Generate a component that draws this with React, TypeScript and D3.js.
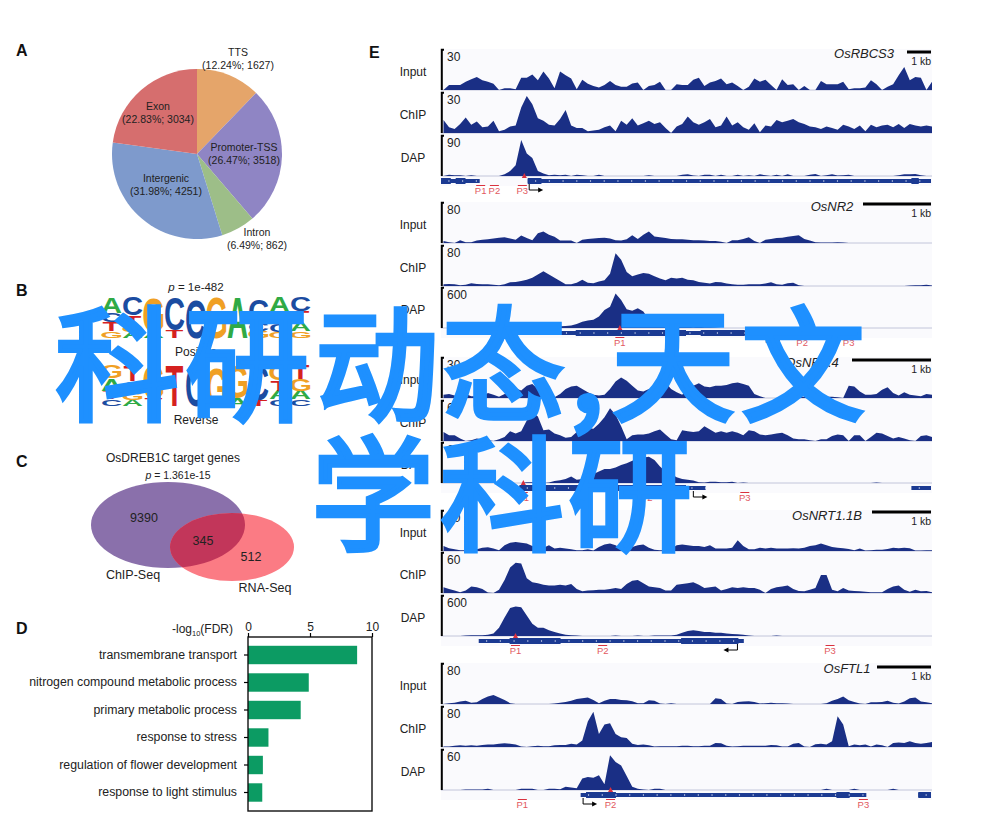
import { useEffect, useRef } from 'react';
import * as d3 from 'd3';

const FONT = '"Liberation Sans", Arial, sans-serif';

// Panel A
const pieNames = ['TTS', 'Promoter-TSS', 'Intron', 'Intergenic', 'Exon'];
const piePercents = [12.24, 26.47, 6.49, 31.98, 22.83];
const pieCounts = [1627, 3518, 862, 4251, 3034];
const pieColors = ['#E5A56A', '#8F85C4', '#9DBE88', '#7E9ACC', '#D66E6E'];
const pieLabelSpots = [[238, 52], [244, 147], [257, 232], [166, 178], [158, 106]];

// Panel B: motif columns, bottom letter first, heights in bits
const logoForward: [string, number][][] = [
  [['G', 0.33], ['T', 0.45], ['C', 0.42], ['A', 0.8]],
  [['A', 0.3], ['G', 0.3], ['T', 0.5], ['C', 0.9]],
  [['A', 0.3], ['G', 1.7]],
  [['T', 0.4], ['C', 1.6]],
  [['C', 1.85]],
  [['G', 2.0]],
  [['A', 2.0]],
  [['G', 0.35], ['C', 0.4], ['C', 1.15]],
  [['G', 0.3], ['C', 0.4], ['T', 0.55], ['A', 0.75]],
  [['G', 0.33], ['A', 0.42], ['T', 0.55], ['C', 0.7]],
];
const logoReverse: [string, number][][] = [
  [['C', 0.33], ['T', 0.42], ['A', 0.6], ['G', 0.65]],
  [['A', 0.3], ['G', 0.4], ['C', 0.5], ['T', 0.8]],
  [['T', 0.35], ['G', 1.65]],
  [['T', 2.0]],
  [['C', 2.0]],
  [['G', 1.9]],
  [['A', 0.4], ['G', 1.6]],
  [['T', 0.3], ['C', 1.7]],
  [['C', 0.33], ['A', 0.42], ['T', 0.5], ['G', 0.75]],
  [['C', 0.33], ['A', 0.42], ['G', 0.55], ['T', 0.7]],
];
const logoColors: Record<string, string> = { A: '#2FAA45', C: '#1B4CA1', G: '#F0A024', T: '#D5211F' };

// Panel D
const goTerms = [
  'transmembrane transport',
  'nitrogen compound metabolic process',
  'primary metabolic process',
  'response to stress',
  'regulation of flower development',
  'response to light stimulus',
];
const goValues = [8.8, 4.9, 4.25, 1.65, 1.2, 1.15];
const goTicks = [0, 5, 10];

// Panel E: signal per bin, ten bins to a row
const rbcsInput = [
  0, 12, 12, 12, 20, 26, 32, 24, 20, 15,
  0, 4, 4, 2, 30, 30, 38, 24, 45, 28,
  4, 45, 36, 28, 2, 25, 15, 10, 6, 12,
  22, 12, 8, 8, 16, 18, 0, 10, 12, 20,
  0, 0, 14, 12, 12, 25, 30, 10, 18, 22,
  28, 14, 18, 10, 0, 8, 28, 20, 25, 12,
  0, 26, 12, 14, 0, 10, 0, 0, 22, 14,
  14, 14, 20, 2, 4, 4, 6, 24, 14, 0,
  8, 14, 36, 56, 24, 32, 30, 0, 20,
];
const rbcsChip = [
  32, 14, 10, 22, 38, 20, 28, 14, 16, 30,
  4, 8, 16, 18, 62, 90, 70, 36, 30, 20,
  18, 34, 56, 18, 12, 12, 4, 6, 8, 14,
  18, 4, 30, 20, 36, 18, 24, 30, 22, 26,
  12, 0, 16, 22, 40, 26, 20, 26, 34, 14,
  18, 40, 18, 26, 14, 8, 24, 2, 18, 16,
  32, 26, 30, 34, 26, 22, 16, 14, 10, 16,
  12, 8, 20, 16, 10, 18, 4, 20, 14, 18,
  20, 14, 22, 12, 22, 18, 16, 18, 16,
];
const rbcsDap = [
  0, 3, 2, 2, 0, 2, 0, 0, 0, 0,
  0, 4, 12, 26, 88, 55, 44, 12, 6, 2,
  3, 2, 3, 0, 3, 2, 0, 0, 3, 0,
  0, 0, 0, 0, 0, 0, 0, 2, 0, 0,
  0, 0, 0, 3, 4, 1, 0, 3, 3, 0,
  3, 0, 0, 3, 0, 2, 0, 4, 2, 0,
  3, 0, 4, 0, 0, 0, 3, 5, 0, 2,
  4, 1, 2, 3, 0, 0, 0, 0, 0, 0,
  0, 0, 2, 4, 4, 5, 2, 0, 0,
];
const nr2Input = [
  5, 2, 0, 7, 2, 2, 6, 8, 9, 11,
  13, 14, 11, 8, 18, 12, 7, 24, 28, 20,
  15, 6, 6, 6, 0, 8, 10, 11, 12, 13,
  11, 7, 6, 9, 19, 10, 20, 28, 16, 14,
  12, 10, 9, 9, 8, 7, 7, 6, 5, 5,
  3, 0, 7, 7, 10, 14, 5, 0, 8, 10,
  12, 13, 15, 17, 19, 10, 6, 2, 1, 1,
  1, 2, 1, 0, 0, 0, 0, 0, 0, 0,
  0, 0, 0, 0, 0, 0, 0, 0, 0,
];
const nr2Chip = [
  4, 5, 4, 2, 3, 7, 5, 4, 4, 3,
  2, 4, 9, 10, 12, 15, 20, 28, 36, 28,
  20, 12, 4, 4, 8, 15, 8, 7, 11, 14,
  30, 80, 64, 34, 24, 28, 32, 30, 24, 18,
  14, 20, 18, 20, 15, 14, 10, 8, 6, 10,
  9, 6, 4, 3, 3, 4, 4, 4, 6, 9,
  4, 3, 7, 8, 2, 0, 0, 0, 0, 0,
  0, 0, 0, 0, 0, 0, 0, 0, 0, 0,
  0, 0, 0, 0, 1, 2, 2, 3, 1,
];
const nr2Dap = [
  0, 0, 0, 0, 0, 0, 0, 0, 0, 0,
  0, 0, 0, 0, 0, 0, 0, 0, 0, 0,
  3, 4, 5, 6, 10, 15, 18, 20, 28, 44,
  52, 84, 68, 46, 42, 48, 40, 20, 12, 8,
  6, 5, 4, 3, 3, 2, 3, 2, 2, 1,
  0, 0, 0, 0, 0, 0, 0, 0, 0, 0,
  0, 0, 0, 0, 0, 0, 0, 0, 0, 0,
  0, 0, 0, 0, 0, 0, 0, 0, 0, 0,
  0, 0, 0, 0, 0, 0, 0, 0, 0,
];
const nr24Input = [
  8, 10, 6, 3, 10, 4, 4, 3, 12, 8,
  3, 10, 16, 24, 18, 30, 34, 22, 12, 3,
  2, 10, 22, 28, 30, 22, 14, 8, 6, 8,
  22, 40, 50, 42, 30, 18, 16, 22, 14, 24,
  38, 22, 14, 8, 24, 30, 36, 28, 26, 30,
  30, 32, 36, 38, 34, 30, 10, 4, 0, 0,
  0, 0, 1, 2, 3, 3, 3, 3, 3, 3,
  3, 2, 0, 30, 28, 16, 8, 8, 10, 20,
  26, 12, 6, 14, 8, 6, 4, 10, 8,
];
const nr24Chip = [
  22, 14, 14, 6, 0, 2, 6, 4, 2, 0,
  4, 10, 24, 18, 24, 50, 70, 60, 26, 28,
  18, 14, 8, 10, 22, 40, 32, 30, 42, 58,
  80, 64, 36, 4, 14, 16, 16, 18, 24, 28,
  16, 4, 2, 26, 24, 22, 24, 36, 28, 20,
  24, 20, 24, 20, 14, 26, 24, 16, 14, 16,
  18, 20, 14, 6, 4, 4, 2, 0, 4, 4,
  12, 16, 14, 0, 14, 14, 0, 10, 20, 18,
  12, 6, 10, 6, 2, 0, 12, 14, 10,
];
const nr24Dap = [
  0, 0, 0, 0, 0, 0, 0, 0, 0, 0,
  0, 0, 0, 0, 0, 2, 2, 1, 0, 1,
  5, 7, 10, 16, 8, 10, 14, 22, 28, 34,
  34, 38, 44, 48, 54, 60, 62, 64, 56, 40,
  28, 22, 14, 10, 8, 6, 2, 1, 3, 3,
  2, 2, 3, 0, 1, 0, 0, 0, 0, 0,
  0, 0, 0, 0, 0, 0, 0, 0, 0, 0,
  0, 0, 0, 0, 0, 0, 0, 0, 1, 0,
  0, 0, 0, 0, 0, 0, 0, 0, 0,
];
const nrt11Input = [
  12, 7, 4, 2, 2, 6, 4, 8, 9, 6,
  2, 14, 20, 22, 20, 18, 12, 8, 8, 14,
  6, 8, 6, 4, 2, 2, 4, 1, 10, 16,
  18, 14, 6, 8, 10, 14, 16, 8, 3, 2,
  2, 5, 14, 16, 14, 12, 12, 10, 14, 6,
  6, 6, 8, 26, 12, 4, 4, 8, 6, 8,
  6, 6, 6, 7, 6, 8, 12, 14, 18, 14,
  10, 8, 7, 5, 2, 6, 1, 2, 3, 3,
  5, 8, 7, 8, 7, 1, 1, 2, 2,
];
const nrt11Chip = [
  14, 10, 6, 2, 6, 16, 14, 10, 1, 0,
  8, 32, 62, 74, 72, 36, 26, 24, 20, 18,
  18, 20, 18, 22, 10, 4, 6, 7, 8, 8,
  10, 12, 10, 22, 30, 32, 24, 16, 14, 12,
  6, 6, 20, 22, 24, 26, 20, 12, 14, 16,
  6, 10, 14, 12, 14, 12, 12, 8, 0, 10,
  14, 16, 18, 10, 5, 4, 8, 12, 44, 44,
  8, 4, 12, 6, 5, 4, 3, 2, 2, 2,
  10, 16, 18, 8, 3, 8, 4, 5, 2,
];
const nrt11Dap = [
  0, 0, 0, 0, 1, 2, 2, 2, 3, 6,
  20, 45, 68, 72, 70, 50, 30, 20, 20, 14,
  10, 6, 3, 2, 1, 0, 0, 0, 0, 0,
  0, 1, 0, 0, 0, 1, 0, 0, 1, 1,
  1, 1, 3, 8, 12, 14, 12, 10, 10, 8,
  8, 6, 5, 4, 3, 1, 0, 0, 0, 0,
  1, 0, 0, 0, 0, 0, 0, 0, 0, 0,
  0, 0, 0, 0, 0, 0, 0, 0, 0, 0,
  0, 0, 0, 0, 0, 0, 0, 0, 0,
];
const ftlInput = [
  0, 2, 3, 6, 8, 3, 4, 12, 18, 22,
  16, 10, 2, 0, 0, 0, 0, 0, 0, 0,
  1, 3, 5, 8, 12, 14, 16, 10, 2, 8,
  12, 12, 10, 9, 7, 2, 2, 9, 8, 1,
  0, 2, 0, 0, 0, 0, 0, 0, 0, 14,
  12, 1, 0, 5, 6, 7, 5, 1, 2, 3,
  2, 2, 1, 0, 0, 0, 0, 0, 0, 2,
  8, 12, 18, 9, 5, 1, 0, 4, 4, 5,
  8, 3, 1, 6, 14, 16, 6, 4, 2,
];
const ftlChip = [
  1, 1, 3, 4, 3, 4, 3, 5, 6, 6,
  8, 9, 8, 6, 1, 0, 2, 3, 2, 2,
  4, 5, 5, 8, 6, 16, 62, 86, 32, 55,
  58, 32, 24, 22, 8, 5, 6, 4, 1, 2,
  2, 2, 2, 3, 3, 2, 2, 3, 3, 10,
  9, 3, 1, 2, 3, 3, 3, 3, 3, 5,
  4, 1, 1, 8, 10, 1, 0, 7, 8, 6,
  14, 75, 55, 2, 6, 4, 6, 1, 6, 4,
  0, 10, 11, 10, 14, 10, 8, 10, 12,
];
const ftlDap = [
  0, 0, 0, 0, 1, 1, 1, 1, 3, 0,
  0, 0, 0, 0, 3, 3, 3, 0, 0, 3,
  3, 2, 8, 6, 4, 28, 32, 30, 36, 14,
  85, 68, 60, 34, 8, 3, 1, 0, 3, 3,
  0, 0, 0, 0, 0, 0, 0, 0, 0, 0,
  0, 0, 0, 0, 0, 0, 0, 0, 0, 0,
  0, 0, 0, 0, 0, 0, 0, 0, 0, 3,
  0, 0, 0, 0, 3, 0, 0, 0, 0, 0,
  0, 3, 0, 0, 0, 0, 0, 0, 0,
];

// gene models on a 0-100 scale across the track
const geneNames = ['OsRBCS3', 'OsNR2', 'OsNR2.4', 'OsNRT1.1B', 'OsFTL1'];
const geneInputs = [rbcsInput, nr2Input, nr24Input, nrt11Input, ftlInput];
const geneChips = [rbcsChip, nr2Chip, nr24Chip, nrt11Chip, ftlChip];
const geneDaps = [rbcsDap, nr2Dap, nr24Dap, nrt11Dap, ftlDap];
const geneScales = [
  ['30', '30', '90'],
  ['80', '80', '600'],
  ['30', '60', '600'],
  ['60', '60', '600'],
  ['80', '80', '60'],
];
const geneThin: [number, number][][] = [
  [[0, 7.9], [17.7, 100]],
  [[24, 69]],
  [[16, 54], [96, 100]],
  [[7.7, 61.8]],
  [[28.5, 86.8], [97.4, 100]],
];
const geneThick: [number, number][][] = [
  [[0, 2], [3, 5], [17.7, 20.5], [96, 97.5]],
  [[27.5, 50], [53, 62]],
  [[16, 30], [36, 50]],
  [[14, 24.4], [49, 60.7]],
  [[29.6, 35.7], [80.7, 83.4], [97.4, 100]],
];
const primers = [
  [8.1, 10.9, 16.6],
  [36.5, 73.7, 83.2],
  [16.8, 42, 62],
  [15.2, 33, 79.4],
  [16.6, 34.6, 86.2],
];
const hits = [17, 36.5, 16.8, 15.2, 34.6];
const tssStart = [18, 69, 51.5, 60.5, 29];
const tssDir = [1, -1, 1, -1, 1];

// layout of the five gene blocks
const trackBases = [
  [90, 133, 176],
  [243, 286, 328],
  [398, 441, 483],
  [551, 593, 636],
  [704, 747, 790],
];
const titleSpots = [[864, 54], [832, 207], [812, 363], [827, 516], [847, 669]];
const barStarts = [907, 863, 852, 872, 877];
const barYs = [52, 204, 360, 512, 667];

// banner text over the figure
const bannerTop = '科研动态,天文';
const bannerBottom = '学科研';
const bannerTopX = [55, 185, 315, 442, 570, 611, 741];
const bannerBottomX = [311, 440, 568];

const TRACK_H = 41;
const xBins = d3.scaleLinear().domain([0, 88]).range([443.5, 932]);
const xGene = d3.scaleLinear().domain([0, 100]).range([441, 931]);

function PieChart() {
  const arcs = d3.pie<number>().sort(null)(piePercents);
  const arc = d3.arc<d3.PieArcDatum<number>>().innerRadius(0).outerRadius(85);
  return (
    <g fontSize={10.5}>
      <g transform="translate(197,154)">
        {arcs.map((a, i) => (
          <path key={i} d={arc(a) || ''} fill={pieColors[i]} />
        ))}
      </g>
      {pieNames.map((name, i) => (
        <text key={name} x={pieLabelSpots[i][0]} textAnchor="middle" fill="#222">
          <tspan x={pieLabelSpots[i][0]} y={pieLabelSpots[i][1] + 3.5}>{name}</tspan>
          <tspan x={pieLabelSpots[i][0]} y={pieLabelSpots[i][1] + 16.5}>({piePercents[i]}%; {pieCounts[i]})</tspan>
        </text>
      ))}
    </g>
  );
}

function SeqLogo({ columns, base }: { columns: [string, number][][]; base: number }) {
  const x = d3.scaleBand<number>().domain(d3.range(columns.length)).range([101, 311]);
  const y = d3.scaleLinear().domain([0, 2]).range([base, base - 41]);
  return (
    <g fontFamily={FONT} fontWeight="bold">
      {columns.map((col, i) => {
        let stack = 0;
        return col.map(([letter, bits], j) => {
          const bottom = y(stack);
          stack += bits;
          const sy = (bottom - y(stack)) / 71.6;
          const sx = x.bandwidth() / 72;
          return (
            <text
              key={`${i}-${j}`}
              transform={`translate(${x(i)! + x.bandwidth() / 2},${bottom}) scale(${sx},${sy})`}
              fontSize={100}
              textAnchor="middle"
              fill={logoColors[letter]}
            >
              {letter}
            </text>
          );
        });
      })}
    </g>
  );
}

function Venn() {
  return (
    <g>
      <defs>
        <clipPath id="chipClip">
          <ellipse cx={168} cy={525} rx={77} ry={43} />
        </clipPath>
      </defs>
      <ellipse cx={168} cy={525} rx={77} ry={43} fill="#8A70AB" />
      <ellipse cx={232} cy={547} rx={62} ry={34} fill="#FB7B84" />
      <ellipse cx={232} cy={547} rx={62} ry={34} fill="#C2365A" clipPath="url(#chipClip)" />
      <g textAnchor="middle" fontSize={12.5} fill="#222">
        <text x={173} y={462} fontSize={12}>OsDREB1C target genes</text>
        <text x={178} y={478.5} fontSize={10.5}>
          <tspan fontStyle="italic">p</tspan> = 1.361e-15
        </text>
        <text x={144} y={522}>9390</text>
        <text x={203} y={545}>345</text>
        <text x={251} y={561}>512</text>
        <text x={133} y={579}>ChIP-Seq</text>
        <text x={265} y={592}>RNA-Seq</text>
      </g>
    </g>
  );
}

function GoBars() {
  const xRef = useRef<SVGGElement>(null);
  const yRef = useRef<SVGGElement>(null);
  const x = d3.scaleLinear().domain([0, 10]).range([248, 372]);
  const y = d3.scaleBand<string>().domain(goTerms).range([641.25, 806.25]).paddingInner(0.33).paddingOuter(0.165);

  useEffect(() => {
    if (!xRef.current || !yRef.current) return;
    const top = d3.select(xRef.current);
    top.call(d3.axisTop(x).tickValues(goTicks).tickSize(4).tickPadding(2) as any);
    top.selectAll('text').attr('font-size', 12).attr('font-family', FONT).attr('fill', '#222');
    top.select('.domain').remove();
    top.selectAll('line').attr('stroke-width', 1.2);

    const left = d3.select(yRef.current);
    left.call(d3.axisLeft(y).tickSize(4).tickPadding(7) as any);
    left.selectAll('text').attr('font-size', 12.3).attr('font-family', FONT).attr('fill', '#222');
    left.select('.domain').remove();
    left.selectAll('line').attr('stroke-width', 1.2);
  }, []);

  return (
    <g>
      {goTerms.map((term, i) => (
        <rect key={term} x={x(0)} y={y(term)} width={x(goValues[i]) - x(0)} height={y.bandwidth()} fill="#0C9B63" />
      ))}
      <rect x={248} y={637} width={124} height={174} fill="none" stroke="#111" strokeWidth={1.4} />
      <g ref={xRef} transform="translate(0,637)" />
      <g ref={yRef} transform="translate(248,0)" />
      <text x={233} y={633} textAnchor="end" fontSize={12} fill="#222">
        -log<tspan fontSize={7.5} dy={3}>10</tspan><tspan dy={-3}>(FDR)</tspan>
      </text>
    </g>
  );
}

function Track({ values, base, label, scale }: { values: number[]; base: number; label: string; scale: string }) {
  const y = d3.scaleLinear().domain([0, 100]).range([base, base - TRACK_H]);
  const area = d3.area<number>().x((_, i) => xBins(i)).y0(base).y1(d => y(d));
  return (
    <g>
      <line x1={441} x2={932} y1={base} y2={base} stroke="#B4B8D0" strokeWidth={0.8} />
      <path d={area(values) || ''} fill="#1A2F85" />
      <path d={`M444,${base - TRACK_H + 0.8}H441.8V${base}`} fill="none" stroke="#000" strokeWidth={2} />
      <text x={447} y={base - 29} fontSize={12} fill="#222">{scale}</text>
      <text x={413} y={base - 14} fontSize={12} textAnchor="middle" fill="#222">{label}</text>
    </g>
  );
}

function GeneBlock({ index }: { index: number }) {
  const [b1, b2, b3] = trackBases[index];
  const geneY = b3 + 5;
  const labelY = b3 + 18;
  const marks = geneThin[index].flatMap(([s, e]) => d3.range(s + 1.5, e, 2.8));
  const tss = xGene(tssStart[index]);
  const dir = tssDir[index];
  return (
    <g>
      <rect x={441} y={b1 - TRACK_H} width={491} height={b3 + 10 - b1 + TRACK_H} fill="#FAFAFD" />
      <Track values={geneInputs[index]} base={b1} label="Input" scale={geneScales[index][0]} />
      <Track values={geneChips[index]} base={b2} label="ChIP" scale={geneScales[index][1]} />
      <Track values={geneDaps[index]} base={b3} label="DAP" scale={geneScales[index][2]} />

      {geneThin[index].map(([s, e], i) => (
        <rect key={i} x={xGene(s)} y={geneY - 2} width={xGene(e) - xGene(s)} height={4} fill="#1B3A92" />
      ))}
      {geneThick[index].map(([s, e], i) => (
        <rect key={i} x={xGene(s)} y={geneY - 3} width={xGene(e) - xGene(s)} height={6} fill="#1B3A92" />
      ))}
      {marks.map((m, i) => (
        <rect key={i} x={xGene(m)} y={geneY - 0.6} width={1.1} height={1.2} fill="#E8ECF8" />
      ))}

      <path d={`M${xGene(hits[index]) - 2.5},${b3 + 2}h5l-2.5,-5z`} fill="#D9303F" />
      {primers[index].map((p, i) => (
        <g key={i}>
          <line x1={xGene(p) - 4.5} x2={xGene(p) + 4.5} y1={labelY - 8.5} y2={labelY - 8.5} stroke="#D9323F" strokeWidth={1} />
          <text x={xGene(p)} y={labelY} fontSize={9.5} textAnchor="middle" fill="#E2595F">P{i + 1}</text>
        </g>
      ))}

      <path d={`M${tss},${geneY + 3}v6h${dir * 11}`} fill="none" stroke="#000" strokeWidth={1} />
      <path d={`M${tss + dir * 14},${geneY + 9}l${-dir * 5},-2.5v5z`} fill="#000" />

      <text x={titleSpots[index][0]} y={titleSpots[index][1] + 4} fontSize={13} fontStyle="italic" textAnchor="middle" fill="#222">
        {geneNames[index]}
      </text>
      <line x1={barStarts[index]} x2={931} y1={barYs[index]} y2={barYs[index]} stroke="#000" strokeWidth={3} />
      <text x={931} y={barYs[index] + 13} fontSize={10.5} textAnchor="end" fill="#222">1 kb</text>
    </g>
  );
}

export default function App() {
  return (
    <svg
      width={1000}
      height={826}
      viewBox="0 0 1000 826"
      style={{ position: 'absolute', left: 0, top: 0, background: '#fff' }}
      fontFamily={FONT}
    >
      <g fontWeight="bold" fontSize={16} fill="#111">
        <text x={16} y={56}>A</text>
        <text x={16} y={296}>B</text>
        <text x={16} y={467}>C</text>
        <text x={16} y={634}>D</text>
        <text x={369} y={58}>E</text>
      </g>

      <PieChart />

      <text x={196} y={291} fontSize={11.5} textAnchor="middle" fill="#222">
        <tspan fontStyle="italic">p</tspan> = 1e-482
      </text>
      <SeqLogo columns={logoForward} base={338} />
      <text x={196} y={356} fontSize={12} textAnchor="middle" fill="#222">Positive</text>
      <SeqLogo columns={logoReverse} base={406} />
      <text x={196} y={424} fontSize={12} textAnchor="middle" fill="#222">Reverse</text>

      <Venn />
      <GoBars />

      {geneNames.map((name, i) => (
        <GeneBlock key={name} index={i} />
      ))}

      <g
        fontFamily='"Noto Sans CJK SC"'
        fontSize={124}
        fill="#1E90FF"
        stroke="#1E90FF"
        strokeWidth={4.5}
        strokeLinejoin="miter"
      >
        <text x={bannerTopX.join(' ')} y={411}>{bannerTop}</text>
        <text x={bannerBottomX.join(' ')} y={541}>{bannerBottom}</text>
      </g>
    </svg>
  );
}
